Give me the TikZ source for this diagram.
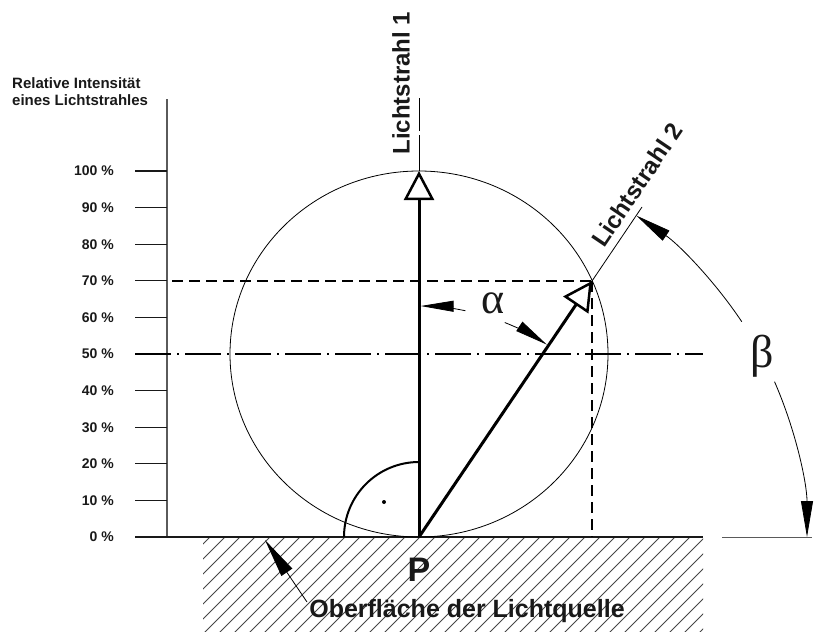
\documentclass[tikz,border=0pt]{standalone}
\usepackage{fontspec}
\setmainfont{Liberation Sans}
\newfontfamily\greekserif{Liberation Serif}
\usetikzlibrary{arrows.meta}
\definecolor{ink}{RGB}{25,25,25}
\definecolor{axisgray}{RGB}{90,90,90}
\definecolor{hatchgray}{RGB}{70,70,70}
\tikzset{
 lbl/.style={font=\bfseries\fontsize{14}{14}\selectfont, text=ink, anchor=east, inner sep=0pt},
 titletext/.style={font=\bfseries\fontsize{15}{15}\selectfont, text=ink, anchor=base west, inner sep=0pt},
 tickline/.style={draw=ink, line width=1.2pt},
 ray/.style={draw=black, line width=3pt, -{Triangle[open,length=29pt,width=30pt,line width=2.5pt]}},
 thinline/.style={draw=black, line width=0.8pt},
 dimarrow/.style={draw=black, line width=0.8pt, -{Triangle[length=33pt,width=11pt]}},
 betaarrow/.style={draw=black, line width=0.8pt, -{Triangle[length=36pt,width=12pt]}},
 hatchline/.style={draw=hatchgray, line width=0.8pt},
 dashline/.style={draw=black, line width=1.4pt, dash pattern=on 11pt off 6pt},
 centerline/.style={draw=black, line width=1.2pt, dash pattern=on 36pt off 6pt on 2pt off 6pt},
 raylabel/.style={font=\bfseries\fontsize{24}{24}\selectfont, text=ink},
 greek/.style={font=\greekserif\fontsize{44}{44}\selectfont, text=ink, inner sep=0pt},
}
\begin{document}
\begin{tikzpicture}[x=1pt,y=-1pt]
\useasboundingbox (0,0) rectangle (815,632);
% hatching of the light source
\begin{scope}
\clip (203,537) rectangle (703,632);
\foreach \k in {-1,...,40} \draw[hatchline] ({105+15*\k},642) -- ({215+15*\k},532);
\end{scope}
% key points
\coordinate (P) at (419,537);
\coordinate (C) at (419,354);
\coordinate (T1) at (419,171);
\coordinate (T2) at (592,281);
\coordinate (E2) at (642,207);
\coordinate (axTop) at (167,99);
\coordinate (axBot) at (167,537);
% axis
\draw[axisgray, line width=1.5pt] (axTop) -- (axBot);
\foreach \i/\pc in {1/10,2/20,3/30,4/40,6/60,7/70,8/80,9/90,10/100}
  \draw[tickline] (135,{537-36.6*\i}) -- (167,{537-36.6*\i});
\foreach \i/\pc in {0/0,1/10,2/20,3/30,4/40,5/50,6/60,7/70,8/80,9/90,10/100}
  \node[lbl] (lab\i) at (114,{537-36.6*\i}) {\pc{} \%};
\node[titletext] (title1) at (12,88) {Relative Intensität};
\node[titletext] (title2) at (12,105) {eines Lichtstrahles};
% surface and reference lines
\draw[ink, line width=1.2pt] (135,537) -- (703,537);
\draw[axisgray, line width=1pt] (722,537) -- (812,537);
\draw[centerline] (135,354) -- (703,354);
\draw[dashline] (172,281) -- (T2);
\draw[dashline] (T2) -- (592,537);
% circle (slightly wide, as in the reference)
\draw[line width=0.8pt] (C) ellipse[x radius=189pt, y radius=183pt];
% rays
\draw[ray] (P) -- (T1);
\draw[ray] (P) -- (T2);
\draw[thinline] (T1) -- (419,135);
\draw[thinline] (419,131) -- (419,98);
\draw[thinline] (T2) -- (E2);
\node[raylabel, rotate=90] (L1) at (401,83) {Lichtstrahl 1};
\node[raylabel, rotate=55.95] (L2) at (637,185) {Lichtstrahl 2};
% right angle
\draw[line width=2pt] (P) ++(180:75) arc[start angle=180, end angle=270, radius=75];
\fill (P) ++(225:49.5) circle[radius=2pt];
% alpha
\draw[dimarrow] (P) ++(-78.4:231) arc[start angle=-78.4, end angle=-89.6, radius=231];
\draw[dimarrow] (P) ++(-68.2:231) arc[start angle=-68.2, end angle=-56.4, radius=231];
\node[greek] (alpha) at (493,303) {α};
% beta
\draw[betaarrow] (P) ++(-33.7:388) arc[start angle=-33.7, end angle=-55.95, radius=388];
\draw[betaarrow] (P) ++(-23.6:388) arc[start angle=-23.6, end angle=0, radius=388];
\node[greek, font=\greekserif\fontsize{46}{46}\selectfont] (beta) at (762,356) {β};
% labels at the bottom
\node[font=\bfseries\fontsize{34}{34}\selectfont, text=ink] (Plabel) at (419,570) {P};
\node[font=\bfseries\fontsize{25}{25}\selectfont, text=ink] (surf) at (467,611) {Oberfläche der Lichtquelle};
\coordinate (ptrTail) at (307,602);
\coordinate (ptrTip) at (265,540);
\draw[draw=black, line width=0.8pt, -{Triangle[length=39pt,width=13pt]}] (ptrTail) -- (ptrTip);
\end{tikzpicture}
\end{document}
